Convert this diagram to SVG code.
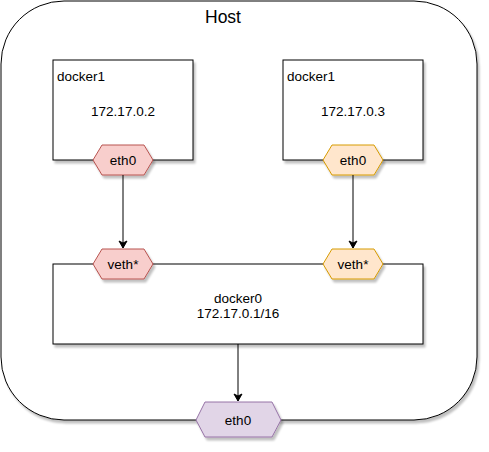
<svg xmlns="http://www.w3.org/2000/svg" width="489" height="452" viewBox="0 0 489 452">
<defs>
<filter id="sh" x="-10%" y="-10%" width="130%" height="130%">
<feGaussianBlur in="SourceAlpha" stdDeviation="1"/>
<feOffset dx="2" dy="3" result="o"/>
<feComponentTransfer><feFuncA type="linear" slope="0.25"/></feComponentTransfer>
<feMerge><feMergeNode/><feMergeNode in="SourceGraphic"/></feMerge>
</filter>
<marker id="arr" markerWidth="10" markerHeight="10" refX="8" refY="5" orient="auto" markerUnits="userSpaceOnUse">
<path d="M1,1 L8,5 L1,9 L3,5 Z" fill="#000" stroke="#000"/>
</marker>
<style>
text{font-family:"Liberation Sans",Arial,sans-serif;font-size:13.5px;fill:#000}
.box{fill:#fff;stroke:#000;stroke-width:1;filter:url(#sh)}
.red{fill:#f8cecc;stroke:#b85450;filter:url(#sh)}
.org{fill:#ffe6cc;stroke:#d79b00;filter:url(#sh)}
.pur{fill:#e1d5e7;stroke:#9673a6;filter:url(#sh)}
.c{text-anchor:middle}
.edge{stroke:#000;stroke-width:1;fill:none;marker-end:url(#arr)}
</style>
</defs>
<g id="host">
<rect class="box" x="1" y="1" width="476" height="419" rx="63" ry="63"/>
<text class="c" x="223" y="23" style="font-size:17.5px">Host</text>
</g>
<g id="docker1-a">
<rect class="box" x="53" y="60" width="140" height="100"/>
<text x="57" y="81">docker1</text>
<text class="c" x="123" y="116">172.17.0.2</text>
</g>
<g id="docker1-b">
<rect class="box" x="283" y="60" width="140" height="100"/>
<text x="287" y="81">docker1</text>
<text class="c" x="353" y="116">172.17.0.3</text>
</g>
<g id="docker0">
<rect class="box" x="53" y="264" width="370" height="80"/>
<text class="c" x="238" y="303">docker0</text>
<text class="c" x="238" y="318">172.17.0.1/16</text>
</g>
<g id="eth0-a">
<polygon class="red" points="93,160 102,145 144,145 153,160 144,175 102,175"/>
<text class="c" x="123" y="165">eth0</text>
</g>
<g id="eth0-b">
<polygon class="org" points="323,160 332,145 374,145 383,160 374,175 332,175"/>
<text class="c" x="353" y="165">eth0</text>
</g>
<g id="veth-a">
<polygon class="red" points="93,264 102,249 144,249 153,264 144,279 102,279"/>
<text class="c" x="123" y="269">veth*</text>
</g>
<g id="veth-b">
<polygon class="org" points="323,264 332,249 374,249 383,264 374,279 332,279"/>
<text class="c" x="353" y="269">veth*</text>
</g>
<g id="eth0-host">
<polygon class="pur" points="196,420 205,402 272,402 281,420 272,437 205,437"/>
<text class="c" x="238" y="425">eth0</text>
</g>
<g id="connectors">
<line class="edge" x1="123" y1="175" x2="123" y2="248"/>
<line class="edge" x1="353" y1="175" x2="353" y2="248"/>
<line class="edge" x1="238" y1="344" x2="238" y2="401"/>
</g>
</svg>
